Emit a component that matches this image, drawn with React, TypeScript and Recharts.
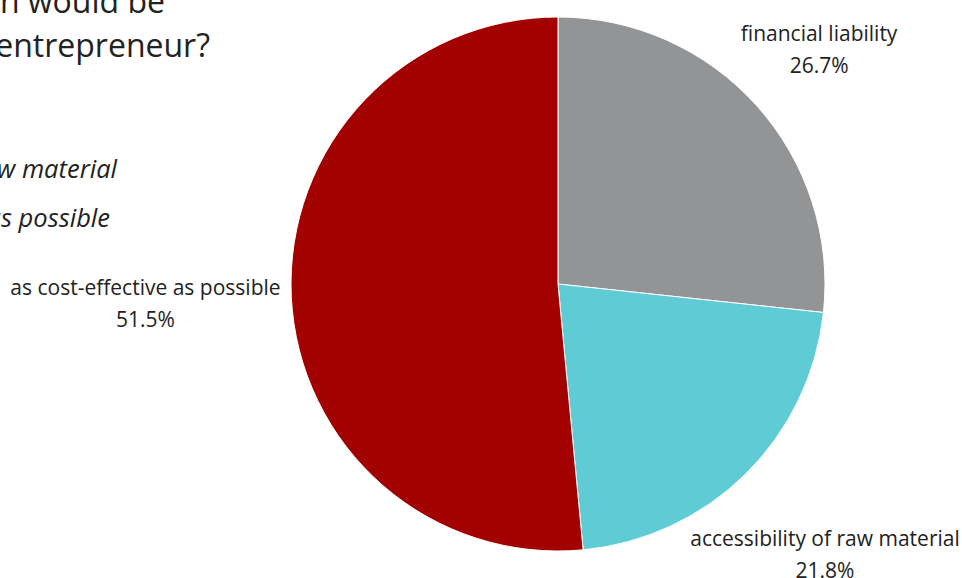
import { Cell, Pie, PieChart } from "recharts"

const categories = ["financial liability", "accessibility of raw material", "as cost-effective as possible"]
const shares = [26.7, 21.8, 51.5]
const titleLines = ["n would be", "entrepreneur?"]
const legendLines = ["accessibility of raw material", "as cost-effective as possible"]

const colors = ["#939495", "#5fcbd4", "#a30000"]
const labelRadius = [351, 380, 413]

const data = categories.map((name, i) => ({ name, value: shares[i] }))

const RADIAN = Math.PI / 180
const font = "'Open Sans', sans-serif"

const renderLabel = (props: any) => {
    const { cx, cy, midAngle, index, name, value } = props
    const r = labelRadius[index]
    const x = cx + r * Math.cos(-midAngle * RADIAN)
    const y = cy + r * Math.sin(-midAngle * RADIAN)
    return (
        <g>
            <text x={x} y={y - 16} textAnchor="middle" dominantBaseline="central" fill="#222" fontSize={21} fontFamily={font}>
                {name}
            </text>
            <text x={x} y={y + 16} textAnchor="middle" dominantBaseline="central" fill="#222" fontSize={21} fontFamily={font}>
                {value.toFixed(1)}%
            </text>
        </g>
    )
}

const App = () => {
    return (
        <div style={{ position: "absolute", left: 0, top: 0, width: 962, height: 578, overflow: "hidden", background: "#fff" }}>
            <PieChart width={962} height={578} margin={{ top: 0, right: 0, bottom: 0, left: 0 }}>
                <Pie
                    data={data}
                    dataKey="value"
                    nameKey="name"
                    cx={558}
                    cy={284}
                    outerRadius={267}
                    startAngle={90}
                    endAngle={-270}
                    stroke="#fff"
                    strokeWidth={1}
                    label={renderLabel}
                    labelLine={false}
                    isAnimationActive={false}
                >
                    {data.map((d, i) => (
                        <Cell key={d.name} fill={colors[i]} />
                    ))}
                </Pie>
            </PieChart>
            <svg width={962} height={578} style={{ position: "absolute", left: 0, top: 0, pointerEvents: "none" }}>
                <text x={165} y={13} textAnchor="end" fontSize={32} fill="#222" fontFamily={font}>{titleLines[0]}</text>
                <text x={210} y={57} textAnchor="end" fontSize={32} fill="#222" fontFamily={font}>{titleLines[1]}</text>
                <text x={117} y={178} textAnchor="end" fontSize={25.5} fontStyle="italic" fill="#222" fontFamily={font}>{legendLines[0]}</text>
                <text x={110} y={227} textAnchor="end" fontSize={25.5} fontStyle="italic" fill="#222" fontFamily={font}>{legendLines[1]}</text>
            </svg>
        </div>
    )
}

export default App
